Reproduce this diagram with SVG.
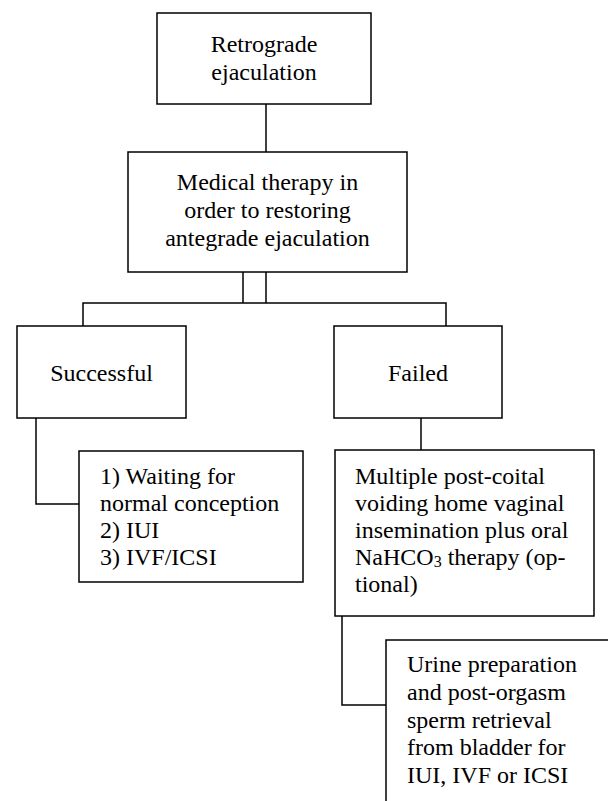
<svg xmlns="http://www.w3.org/2000/svg" width="608" height="801" viewBox="0 0 608 801">
<style>
.box{fill:#fff;stroke:#000;stroke-width:1.5}
.ln{fill:none;stroke:#000;stroke-width:1.5}
text{font-family:'Liberation Serif','Times New Roman',serif;font-size:24px;fill:#000}
.c{text-anchor:middle}
</style>
<rect width="608" height="801" fill="#fff"/>
<g id="connectors">
<path class="ln" d="M266,104V152"/>
<path class="ln" d="M243,272V303M266,272V303"/>
<path class="ln" d="M83,326V303H446V326"/>
<path class="ln" d="M36,418V504H79"/>
<path class="ln" d="M421,418V450"/>
<path class="ln" d="M342,616V705H386"/>
</g>
<g id="retrograde">
<rect class="box" x="157" y="13" width="214" height="91"/>
<text class="c" x="264" y="52">Retrograde</text>
<text class="c" x="264" y="79.5">ejaculation</text>
</g>
<g id="medical">
<rect class="box" x="128" y="152" width="279" height="120"/>
<text class="c" x="267.5" y="190">Medical therapy in</text>
<text class="c" x="267.5" y="218">order to restoring</text>
<text class="c" x="267.5" y="246">antegrade ejaculation</text>
</g>
<g id="successful">
<rect class="box" x="17" y="326" width="169" height="92"/>
<text class="c" x="101.5" y="381">Successful</text>
</g>
<g id="failed">
<rect class="box" x="334" y="326" width="168" height="92"/>
<text class="c" x="418" y="381">Failed</text>
</g>
<g id="options">
<rect class="box" x="79" y="451" width="224" height="131"/>
<text x="100" y="484">1) Waiting for</text>
<text x="100" y="511">normal conception</text>
<text x="100" y="537.5">2) IUI</text>
<text x="100" y="564.5">3) IVF/ICSI</text>
</g>
<g id="multiple">
<rect class="box" x="335" y="450" width="259" height="166"/>
<text x="355" y="484">Multiple post-coital</text>
<text x="355" y="511">voiding home vaginal</text>
<text x="355" y="537.5">insemination plus oral</text>
<text x="355" y="564.5">NaHCO<tspan font-size="16" dy="2">3</tspan><tspan dy="-2"> therapy (op-</tspan></text>
<text x="355" y="591.5">tional)</text>
</g>
<g id="urine">
<rect class="box" x="386" y="640" width="240" height="180"/>
<text x="407" y="672">Urine preparation</text>
<text x="407" y="700">and post-orgasm</text>
<text x="407" y="727.5">sperm retrieval</text>
<text x="407" y="755">from bladder for</text>
<text x="407" y="783">IUI, IVF or ICSI</text>
</g>
</svg>
